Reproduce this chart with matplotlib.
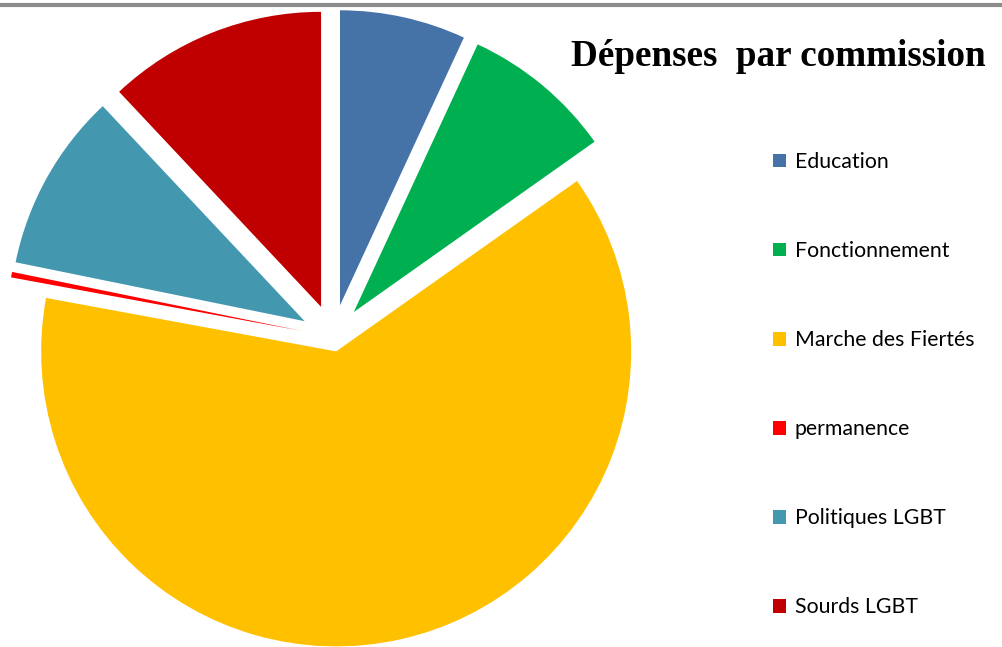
import matplotlib
matplotlib.use("Agg")
import matplotlib.pyplot as plt
from matplotlib.lines import Line2D

# Dépenses par commission - exploded pie

labels = ["Education", "Fonctionnement", "Marche des Fiertés",
          "permanence", "Politiques LGBT", "Sourds LGBT"]
values = [6.9, 8.3, 62.7, 0.3, 9.8, 12.0]
colors = ["#4572A7", "#00B050", "#FFC000", "#FF0000", "#4398B0", "#C00000"]
explode_frac = [0.11, 0.11, 0.05, 0.11, 0.11, 0.11]

W, H = 1003, 647


def main():
    fig = plt.figure(figsize=(W / 100, H / 100), dpi=100)
    # axes spanning the whole figure, one data unit = one pixel
    ax = fig.add_axes([0, 0, 1, 1])

    radius = 295
    # matplotlib's explode is in data units, so scale by the radius
    explode = [f * radius for f in explode_frac]
    wedges, _ = ax.pie(values, colors=colors, explode=explode,
                       startangle=90, counterclock=False,
                       center=(333, H - 337), radius=radius,
                       wedgeprops=dict(linewidth=0), frame=True)
    ax.set_xlim(0, W)
    ax.set_ylim(0, H)
    ax.set_aspect("auto")
    ax.axis("off")

    # grey frame line on top
    fig.add_artist(Line2D([0, 1], [1 - 5 / H, 1 - 5 / H], transform=fig.transFigure,
                          color="#8c8c8c", linewidth=3))

    fig.text(778 / W, 1 - 66 / H, "Dépenses  par commission",
             family="Liberation Serif", weight="bold", fontsize=26.7,
             ha="center", va="baseline")

    fig.legend(wedges, labels, loc="upper left",
               bbox_to_anchor=(773 / W, 1 - 152 / H),
               frameon=False, borderpad=0, borderaxespad=0,
               prop=dict(family="Lato", size=15.3),
               handlelength=0.62, handleheight=0.62, handletextpad=0.4,
               labelspacing=3.25)

    fig.savefig("out.png", dpi=100)


if __name__ == "__main__":
    main()
